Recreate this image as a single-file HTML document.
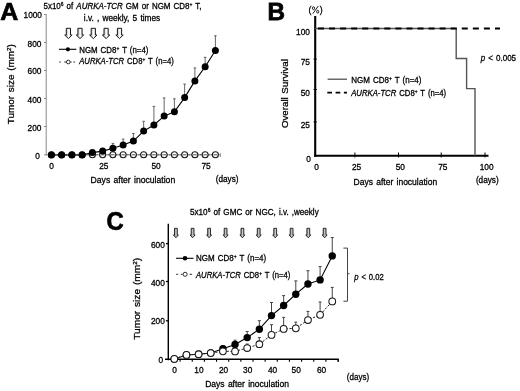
<!DOCTYPE html>
<html><head><meta charset="utf-8"><style>
html,body{margin:0;padding:0;background:#fff;width:520px;height:391px;overflow:hidden}
svg{display:block}
svg text{font-family:"Liberation Sans", sans-serif;stroke:#000;stroke-width:0.28px;word-spacing:0.9px}
svg{filter:grayscale(1)}
</style></head><body>
<svg width="520" height="391" viewBox="0 0 520 391">
<defs><linearGradient id="ag" x1="0" y1="0" x2="1" y2="0"><stop offset="0" stop-color="#888"/><stop offset="0.55" stop-color="#fff"/><stop offset="1" stop-color="#bbb"/></linearGradient><linearGradient id="ag2" x1="0" y1="0" x2="1" y2="0"><stop offset="0" stop-color="#666"/><stop offset="0.55" stop-color="#ccc"/><stop offset="1" stop-color="#888"/></linearGradient></defs>
<rect width="520" height="391" fill="#fff"/>
<text x="0.2" y="20.0" font-size="23.6" text-anchor="start" fill="#000" textLength="18.0" lengthAdjust="spacingAndGlyphs" font-weight="bold" style="stroke-width:0.7px">A</text>
<text x="43.5" y="9.0" font-size="8.4" text-anchor="start" fill="#000" textLength="158.0" lengthAdjust="spacingAndGlyphs">5x10<tspan font-size="0.62em" baseline-shift="55%">6</tspan> of <tspan font-style="italic">AURKA-TCR</tspan> GM or NGM CD8<tspan font-size="0.62em" baseline-shift="55%">+</tspan> T,</text>
<text x="83.8" y="20.8" font-size="8.4" text-anchor="start" fill="#000" textLength="76.4" lengthAdjust="spacingAndGlyphs">i.v. , weekly, 5 times</text>
<path d="M66.30,28.30 L70.50,28.30 L70.50,35.00 L72.10,35.00 L68.40,38.60 L64.70,35.00 L66.30,35.00 Z" fill="url(#ag)" stroke="#1a1a1a" stroke-width="1.0" stroke-linejoin="miter"/>
<path d="M77.90,28.30 L82.10,28.30 L82.10,35.00 L83.70,35.00 L80.00,38.60 L76.30,35.00 L77.90,35.00 Z" fill="url(#ag)" stroke="#1a1a1a" stroke-width="1.0" stroke-linejoin="miter"/>
<path d="M91.20,28.30 L95.40,28.30 L95.40,35.00 L97.00,35.00 L93.30,38.60 L89.60,35.00 L91.20,35.00 Z" fill="url(#ag)" stroke="#1a1a1a" stroke-width="1.0" stroke-linejoin="miter"/>
<path d="M104.00,28.30 L108.20,28.30 L108.20,35.00 L109.80,35.00 L106.10,38.60 L102.40,35.00 L104.00,35.00 Z" fill="url(#ag)" stroke="#1a1a1a" stroke-width="1.0" stroke-linejoin="miter"/>
<path d="M117.40,28.30 L121.60,28.30 L121.60,35.00 L123.20,35.00 L119.50,38.60 L115.80,35.00 L117.40,35.00 Z" fill="url(#ag)" stroke="#1a1a1a" stroke-width="1.0" stroke-linejoin="miter"/>
<line x1="46.2" y1="14.4" x2="46.2" y2="155.3" stroke="#8a8a8a" stroke-width="1"/>
<line x1="44.0" y1="154.8" x2="220.3" y2="154.8" stroke="#8a8a8a" stroke-width="1"/>
<line x1="220.3" y1="153.3" x2="220.3" y2="157.0" stroke="#8a8a8a" stroke-width="1"/>
<line x1="44.0" y1="14.5" x2="46.2" y2="14.5" stroke="#8a8a8a" stroke-width="1"/>
<line x1="44.0" y1="42.5" x2="46.2" y2="42.5" stroke="#8a8a8a" stroke-width="1"/>
<line x1="44.0" y1="70.5" x2="46.2" y2="70.5" stroke="#8a8a8a" stroke-width="1"/>
<line x1="44.0" y1="98.5" x2="46.2" y2="98.5" stroke="#8a8a8a" stroke-width="1"/>
<line x1="44.0" y1="126.5" x2="46.2" y2="126.5" stroke="#8a8a8a" stroke-width="1"/>
<text x="42.0" y="18.25" font-size="8.3" text-anchor="end" fill="#000">1000</text>
<text x="41.4" y="46.9" font-size="8.3" text-anchor="end" fill="#000" textLength="13.9" lengthAdjust="spacingAndGlyphs">800</text>
<text x="41.4" y="74.4" font-size="8.3" text-anchor="end" fill="#000" textLength="13.9" lengthAdjust="spacingAndGlyphs">600</text>
<text x="41.4" y="102.5" font-size="8.3" text-anchor="end" fill="#000" textLength="13.9" lengthAdjust="spacingAndGlyphs">400</text>
<text x="41.4" y="130.5" font-size="8.3" text-anchor="end" fill="#000" textLength="13.9" lengthAdjust="spacingAndGlyphs">200</text>
<text x="39.9" y="158.9" font-size="8.3" text-anchor="end" fill="#000">0</text>
<text x="51.5" y="169.0" font-size="8.3" text-anchor="middle" fill="#000">0</text>
<text x="103.8" y="169.0" font-size="8.3" text-anchor="middle" fill="#000">25</text>
<text x="156.0" y="169.0" font-size="8.3" text-anchor="middle" fill="#000">50</text>
<text x="206.0" y="169.0" font-size="8.3" text-anchor="middle" fill="#000">75</text>
<text x="227.1" y="181.6" font-size="8.3" text-anchor="middle" fill="#000" textLength="22.8" lengthAdjust="spacingAndGlyphs">(days)</text>
<text x="90.6" y="183.1" font-size="8.6" text-anchor="start" fill="#000" textLength="84.6" lengthAdjust="spacingAndGlyphs">Days after inoculation</text>
<text transform="translate(13.7,84.2) rotate(-90)" font-size="9.9" text-anchor="middle" fill="#000" textLength="80" lengthAdjust="spacingAndGlyphs">Tumor size (mm<tspan font-size="0.62em" baseline-shift="55%">2</tspan>)</text>
<polyline points="51.40,154.8 61.65,154.8 71.90,154.8 82.15,154.8 92.40,154.8 102.65,154.8 112.90,154.8 123.15,154.8 133.40,154.8 143.65,154.8 153.90,154.8 164.15,154.8 174.40,154.8 184.65,154.8 194.90,154.8 205.15,154.8 215.40,154.8" fill="none" stroke="#555" stroke-width="0.9" stroke-dasharray="1.6 1.2"/>
<circle cx="51.40" cy="154.8" r="3.0" fill="#fff" stroke="#1a1a1a" stroke-width="1.1"/>
<line x1="49.6" y1="154.8" x2="53.199999999999996" y2="154.8" stroke="#555" stroke-width="1.0"/>
<circle cx="61.65" cy="154.8" r="3.0" fill="#fff" stroke="#1a1a1a" stroke-width="1.1"/>
<line x1="59.85" y1="154.8" x2="63.449999999999996" y2="154.8" stroke="#555" stroke-width="1.0"/>
<circle cx="71.90" cy="154.8" r="3.0" fill="#fff" stroke="#1a1a1a" stroke-width="1.1"/>
<line x1="70.10000000000001" y1="154.8" x2="73.7" y2="154.8" stroke="#555" stroke-width="1.0"/>
<circle cx="82.15" cy="154.8" r="3.0" fill="#fff" stroke="#1a1a1a" stroke-width="1.1"/>
<line x1="80.35" y1="154.8" x2="83.94999999999999" y2="154.8" stroke="#555" stroke-width="1.0"/>
<circle cx="92.40" cy="154.8" r="3.0" fill="#fff" stroke="#1a1a1a" stroke-width="1.1"/>
<line x1="90.60000000000001" y1="154.8" x2="94.2" y2="154.8" stroke="#555" stroke-width="1.0"/>
<circle cx="102.65" cy="154.8" r="3.0" fill="#fff" stroke="#1a1a1a" stroke-width="1.1"/>
<line x1="100.85" y1="154.8" x2="104.44999999999999" y2="154.8" stroke="#555" stroke-width="1.0"/>
<circle cx="112.90" cy="154.8" r="3.0" fill="#fff" stroke="#1a1a1a" stroke-width="1.1"/>
<line x1="111.1" y1="154.8" x2="114.69999999999999" y2="154.8" stroke="#555" stroke-width="1.0"/>
<circle cx="123.15" cy="154.8" r="3.0" fill="#fff" stroke="#1a1a1a" stroke-width="1.1"/>
<line x1="121.35000000000001" y1="154.8" x2="124.95" y2="154.8" stroke="#555" stroke-width="1.0"/>
<circle cx="133.40" cy="154.8" r="3.0" fill="#fff" stroke="#1a1a1a" stroke-width="1.1"/>
<line x1="131.6" y1="154.8" x2="135.20000000000002" y2="154.8" stroke="#555" stroke-width="1.0"/>
<circle cx="143.65" cy="154.8" r="3.0" fill="#fff" stroke="#1a1a1a" stroke-width="1.1"/>
<line x1="141.84999999999997" y1="154.8" x2="145.45" y2="154.8" stroke="#555" stroke-width="1.0"/>
<circle cx="153.90" cy="154.8" r="3.0" fill="#fff" stroke="#1a1a1a" stroke-width="1.1"/>
<line x1="152.09999999999997" y1="154.8" x2="155.7" y2="154.8" stroke="#555" stroke-width="1.0"/>
<circle cx="164.15" cy="154.8" r="3.0" fill="#fff" stroke="#1a1a1a" stroke-width="1.1"/>
<line x1="162.34999999999997" y1="154.8" x2="165.95" y2="154.8" stroke="#555" stroke-width="1.0"/>
<circle cx="174.40" cy="154.8" r="3.0" fill="#fff" stroke="#1a1a1a" stroke-width="1.1"/>
<line x1="172.59999999999997" y1="154.8" x2="176.2" y2="154.8" stroke="#555" stroke-width="1.0"/>
<circle cx="184.65" cy="154.8" r="3.0" fill="#fff" stroke="#1a1a1a" stroke-width="1.1"/>
<line x1="182.85" y1="154.8" x2="186.45000000000002" y2="154.8" stroke="#555" stroke-width="1.0"/>
<circle cx="194.90" cy="154.8" r="3.0" fill="#fff" stroke="#1a1a1a" stroke-width="1.1"/>
<line x1="193.1" y1="154.8" x2="196.70000000000002" y2="154.8" stroke="#555" stroke-width="1.0"/>
<circle cx="205.15" cy="154.8" r="3.0" fill="#fff" stroke="#1a1a1a" stroke-width="1.1"/>
<line x1="203.35" y1="154.8" x2="206.95000000000002" y2="154.8" stroke="#555" stroke-width="1.0"/>
<circle cx="215.40" cy="154.8" r="3.0" fill="#fff" stroke="#1a1a1a" stroke-width="1.1"/>
<line x1="213.6" y1="154.8" x2="217.20000000000002" y2="154.8" stroke="#555" stroke-width="1.0"/>
<line x1="112.89999999999999" y1="143.4" x2="112.89999999999999" y2="146.3" stroke="#555" stroke-width="0.9"/>
<line x1="111.6" y1="143.4" x2="114.19999999999999" y2="143.4" stroke="#555" stroke-width="0.9"/>
<line x1="123.15" y1="139.1" x2="123.15" y2="143" stroke="#555" stroke-width="0.9"/>
<line x1="121.85000000000001" y1="139.1" x2="124.45" y2="139.1" stroke="#555" stroke-width="0.9"/>
<line x1="133.4" y1="133.5" x2="133.4" y2="139.1" stroke="#555" stroke-width="0.9"/>
<line x1="132.1" y1="133.5" x2="134.70000000000002" y2="133.5" stroke="#555" stroke-width="0.9"/>
<line x1="143.64999999999998" y1="121.3" x2="143.64999999999998" y2="129.1" stroke="#555" stroke-width="0.9"/>
<line x1="142.34999999999997" y1="121.3" x2="144.95" y2="121.3" stroke="#555" stroke-width="0.9"/>
<line x1="153.89999999999998" y1="106.4" x2="153.89999999999998" y2="123" stroke="#555" stroke-width="0.9"/>
<line x1="152.59999999999997" y1="106.4" x2="155.2" y2="106.4" stroke="#555" stroke-width="0.9"/>
<line x1="164.14999999999998" y1="97.9" x2="164.14999999999998" y2="114.1" stroke="#555" stroke-width="0.9"/>
<line x1="162.84999999999997" y1="97.9" x2="165.45" y2="97.9" stroke="#555" stroke-width="0.9"/>
<line x1="174.39999999999998" y1="98.8" x2="174.39999999999998" y2="109.7" stroke="#555" stroke-width="0.9"/>
<line x1="173.09999999999997" y1="98.8" x2="175.7" y2="98.8" stroke="#555" stroke-width="0.9"/>
<line x1="184.65" y1="84.1" x2="184.65" y2="95.6" stroke="#555" stroke-width="0.9"/>
<line x1="183.35" y1="84.1" x2="185.95000000000002" y2="84.1" stroke="#555" stroke-width="0.9"/>
<line x1="194.9" y1="67.9" x2="194.9" y2="78.9" stroke="#555" stroke-width="0.9"/>
<line x1="193.6" y1="67.9" x2="196.20000000000002" y2="67.9" stroke="#555" stroke-width="0.9"/>
<line x1="205.15" y1="57.3" x2="205.15" y2="64.8" stroke="#555" stroke-width="0.9"/>
<line x1="203.85" y1="57.3" x2="206.45000000000002" y2="57.3" stroke="#555" stroke-width="0.9"/>
<line x1="215.4" y1="35.8" x2="215.4" y2="48.5" stroke="#555" stroke-width="0.9"/>
<line x1="214.1" y1="35.8" x2="216.70000000000002" y2="35.8" stroke="#555" stroke-width="0.9"/>
<polyline points="51.40,155 61.65,155 71.90,155 82.15,155 92.40,152.6 102.65,151.1 112.90,148.3 123.15,145 133.40,141.1 143.65,131.1 153.90,125 164.15,116.1 174.40,111.7 184.65,97.6 194.90,80.9 205.15,66.8 215.40,50.5" fill="none" stroke="#000" stroke-width="1.1"/>
<circle cx="51.40" cy="155" r="3.5" fill="#000"/>
<circle cx="61.65" cy="155" r="3.5" fill="#000"/>
<circle cx="71.90" cy="155" r="3.5" fill="#000"/>
<circle cx="82.15" cy="155" r="3.5" fill="#000"/>
<circle cx="92.40" cy="152.6" r="3.5" fill="#000"/>
<circle cx="102.65" cy="151.1" r="3.5" fill="#000"/>
<circle cx="112.90" cy="148.3" r="3.5" fill="#000"/>
<circle cx="123.15" cy="145" r="3.5" fill="#000"/>
<circle cx="133.40" cy="141.1" r="3.5" fill="#000"/>
<circle cx="143.65" cy="131.1" r="3.5" fill="#000"/>
<circle cx="153.90" cy="125" r="3.5" fill="#000"/>
<circle cx="164.15" cy="116.1" r="3.5" fill="#000"/>
<circle cx="174.40" cy="111.7" r="3.5" fill="#000"/>
<circle cx="184.65" cy="97.6" r="3.5" fill="#000"/>
<circle cx="194.90" cy="80.9" r="3.5" fill="#000"/>
<circle cx="205.15" cy="66.8" r="3.5" fill="#000"/>
<circle cx="215.40" cy="50.5" r="3.5" fill="#000"/>
<line x1="59.0" y1="49.3" x2="76.4" y2="49.3" stroke="#000" stroke-width="1.1"/>
<circle cx="67.9" cy="49.3" r="2.1" fill="#000"/>
<text x="79.2" y="52.6" font-size="8.4" text-anchor="start" fill="#000" textLength="69.3" lengthAdjust="spacingAndGlyphs">NGM CD8<tspan font-size="0.62em" baseline-shift="55%">+</tspan> T (n=4)</text>
<line x1="59.1" y1="62.0" x2="60.8" y2="62.0" stroke="#333" stroke-width="1.0"/>
<line x1="64.2" y1="62.0" x2="66.2" y2="62.0" stroke="#333" stroke-width="1.0"/>
<line x1="70.4" y1="62.0" x2="71.7" y2="62.0" stroke="#333" stroke-width="1.0"/>
<line x1="73.3" y1="62.0" x2="75.1" y2="62.0" stroke="#333" stroke-width="1.0"/>
<circle cx="68.3" cy="62.0" r="1.85" fill="#fff" stroke="#222" stroke-width="0.95"/>
<text x="79.2" y="64.3" font-size="8.4" text-anchor="start" fill="#000" textLength="94.6" lengthAdjust="spacingAndGlyphs"><tspan font-style="italic">AURKA-TCR</tspan> CD8<tspan font-size="0.62em" baseline-shift="55%">+</tspan> T (n=4)</text>
<text x="267.6" y="19.6" font-size="24.4" text-anchor="start" fill="#000" textLength="17.5" lengthAdjust="spacingAndGlyphs" font-weight="bold" style="stroke-width:0.8px">B</text>
<text x="308.4" y="13.4" font-size="8.8" text-anchor="start" fill="#000">(</text>
<text x="322.8" y="13.4" font-size="8.8" text-anchor="end" fill="#000">)</text>
<g fill="none" stroke="#111" stroke-width="0.95"><ellipse cx="313.5" cy="8.2" rx="1.05" ry="1.45"/><ellipse cx="317.7" cy="11.7" rx="1.05" ry="1.45"/><line x1="318.3" y1="6.0" x2="312.8" y2="13.7"/></g>
<line x1="315.2" y1="16" x2="315.2" y2="156.8" stroke="#000" stroke-width="2.1"/>
<line x1="314.2" y1="155.8" x2="488.5" y2="155.8" stroke="#000" stroke-width="2.1"/>
<line x1="313.6" y1="59.1" x2="316.8" y2="59.1" stroke="#000" stroke-width="1"/>
<line x1="313.6" y1="89.5" x2="316.8" y2="89.5" stroke="#000" stroke-width="1"/>
<line x1="313.6" y1="121.9" x2="316.8" y2="121.9" stroke="#000" stroke-width="1"/>
<line x1="354.9" y1="152.5" x2="354.9" y2="157.5" stroke="#000" stroke-width="1"/>
<line x1="398.5" y1="152.5" x2="398.5" y2="157.5" stroke="#000" stroke-width="1"/>
<line x1="441.2" y1="152.5" x2="441.2" y2="157.5" stroke="#000" stroke-width="1"/>
<line x1="485.0" y1="152.5" x2="485.0" y2="157.5" stroke="#000" stroke-width="1"/>
<text x="309.9" y="35.0" font-size="8.3" text-anchor="end" fill="#000">100</text>
<text x="309.9" y="65.1" font-size="8.3" text-anchor="end" fill="#000">75</text>
<text x="309.9" y="95.7" font-size="8.3" text-anchor="end" fill="#000">50</text>
<text x="309.9" y="127.9" font-size="8.3" text-anchor="end" fill="#000">25</text>
<text x="310.9" y="162.3" font-size="8.3" text-anchor="end" fill="#000">0</text>
<text x="316.5" y="170.0" font-size="8.3" text-anchor="middle" fill="#000">0</text>
<text x="356.5" y="170.0" font-size="8.3" text-anchor="middle" fill="#000">25</text>
<text x="400.3" y="170.0" font-size="8.3" text-anchor="middle" fill="#000">50</text>
<text x="442.8" y="170.0" font-size="8.3" text-anchor="middle" fill="#000">75</text>
<text x="486.6" y="170.0" font-size="8.3" text-anchor="middle" fill="#000">100</text>
<text x="487.3" y="182.5" font-size="8.3" text-anchor="middle" fill="#000" textLength="22.8" lengthAdjust="spacingAndGlyphs">(days)</text>
<text x="353.6" y="184.6" font-size="8.6" text-anchor="start" fill="#000" textLength="83.6" lengthAdjust="spacingAndGlyphs">Days after inoculation</text>
<text transform="translate(288.0,93.6) rotate(-90)" font-size="9.9" text-anchor="middle" fill="#000" textLength="69" lengthAdjust="spacingAndGlyphs">Overall Survival</text>
<polyline points="315.2,28.5 456.2,28.5 456.2,58.5 466.6,58.5 466.6,88.6 475.0,88.6 475.0,155.8" fill="none" stroke="#555" stroke-width="1.4"/>
<line x1="315" y1="28.6" x2="500" y2="28.6" stroke="#000" stroke-width="2" stroke-dasharray="6 5.06" stroke-dashoffset="-3"/>
<line x1="327.6" y1="79.2" x2="347.0" y2="79.2" stroke="#444" stroke-width="1.2"/>
<line x1="327.3" y1="92.6" x2="347" y2="92.6" stroke="#000" stroke-width="1.8" stroke-dasharray="4.7 3.6"/>
<text x="351.2" y="83.0" font-size="8.4" text-anchor="start" fill="#000" textLength="70.3" lengthAdjust="spacingAndGlyphs">NGM CD8<tspan font-size="0.62em" baseline-shift="55%">+</tspan> T (n=4)</text>
<text x="351.2" y="95.8" font-size="8.4" text-anchor="start" fill="#000" textLength="95.0" lengthAdjust="spacingAndGlyphs"><tspan font-style="italic">AURKA-TCR</tspan> CD8<tspan font-size="0.62em" baseline-shift="55%">+</tspan> T (n=4)</text>
<text x="480.7" y="60.6" font-size="8.4" text-anchor="start" fill="#000" textLength="35.4" lengthAdjust="spacingAndGlyphs"><tspan font-style="italic">p</tspan> &lt; 0.005</text>
<text x="106.6" y="230.2" font-size="25.6" text-anchor="start" fill="#000" textLength="17.2" lengthAdjust="spacingAndGlyphs" font-weight="bold" style="stroke-width:0.7px">C</text>
<text x="190.1" y="215.2" font-size="8.4" text-anchor="start" fill="#000" textLength="128.6" lengthAdjust="spacingAndGlyphs">5x10<tspan font-size="0.62em" baseline-shift="55%">6</tspan> of GMC or NGC, i.v. ,weekly</text>
<path d="M174.50,228.30 L177.30,228.30 L177.30,234.90 L178.40,234.90 L175.90,237.80 L173.40,234.90 L174.50,234.90 Z" fill="url(#ag2)" stroke="#1a1a1a" stroke-width="0.9" stroke-linejoin="miter"/>
<path d="M191.20,228.30 L194.00,228.30 L194.00,234.90 L195.10,234.90 L192.60,237.80 L190.10,234.90 L191.20,234.90 Z" fill="url(#ag2)" stroke="#1a1a1a" stroke-width="0.9" stroke-linejoin="miter"/>
<path d="M207.70,228.30 L210.50,228.30 L210.50,234.90 L211.60,234.90 L209.10,237.80 L206.60,234.90 L207.70,234.90 Z" fill="url(#ag2)" stroke="#1a1a1a" stroke-width="0.9" stroke-linejoin="miter"/>
<path d="M224.20,228.30 L227.00,228.30 L227.00,234.90 L228.10,234.90 L225.60,237.80 L223.10,234.90 L224.20,234.90 Z" fill="url(#ag2)" stroke="#1a1a1a" stroke-width="0.9" stroke-linejoin="miter"/>
<path d="M241.00,228.30 L243.80,228.30 L243.80,234.90 L244.90,234.90 L242.40,237.80 L239.90,234.90 L241.00,234.90 Z" fill="url(#ag2)" stroke="#1a1a1a" stroke-width="0.9" stroke-linejoin="miter"/>
<path d="M257.30,228.30 L260.10,228.30 L260.10,234.90 L261.20,234.90 L258.70,237.80 L256.20,234.90 L257.30,234.90 Z" fill="url(#ag2)" stroke="#1a1a1a" stroke-width="0.9" stroke-linejoin="miter"/>
<path d="M273.80,228.30 L276.60,228.30 L276.60,234.90 L277.70,234.90 L275.20,237.80 L272.70,234.90 L273.80,234.90 Z" fill="url(#ag2)" stroke="#1a1a1a" stroke-width="0.9" stroke-linejoin="miter"/>
<path d="M290.20,228.30 L293.00,228.30 L293.00,234.90 L294.10,234.90 L291.60,237.80 L289.10,234.90 L290.20,234.90 Z" fill="url(#ag2)" stroke="#1a1a1a" stroke-width="0.9" stroke-linejoin="miter"/>
<path d="M306.90,228.30 L309.70,228.30 L309.70,234.90 L310.80,234.90 L308.30,237.80 L305.80,234.90 L306.90,234.90 Z" fill="url(#ag2)" stroke="#1a1a1a" stroke-width="0.9" stroke-linejoin="miter"/>
<path d="M323.20,228.30 L326.00,228.30 L326.00,234.90 L327.10,234.90 L324.60,237.80 L322.10,234.90 L323.20,234.90 Z" fill="url(#ag2)" stroke="#1a1a1a" stroke-width="0.9" stroke-linejoin="miter"/>
<line x1="168.3" y1="223.8" x2="168.3" y2="360.2" stroke="#000" stroke-width="1.4"/>
<line x1="165.0" y1="359.3" x2="338.8" y2="359.3" stroke="#000" stroke-width="1.5"/>
<line x1="165.9" y1="243.6" x2="168.3" y2="243.6" stroke="#000" stroke-width="1.3"/>
<line x1="165.9" y1="281.5" x2="168.3" y2="281.5" stroke="#000" stroke-width="1.3"/>
<line x1="165.9" y1="320.8" x2="168.3" y2="320.8" stroke="#000" stroke-width="1.3"/>
<line x1="180.1" y1="359.3" x2="180.1" y2="361.8" stroke="#000" stroke-width="1.1"/>
<line x1="192.25" y1="359.3" x2="192.25" y2="361.8" stroke="#000" stroke-width="1.1"/>
<line x1="204.4" y1="359.3" x2="204.4" y2="361.8" stroke="#000" stroke-width="1.1"/>
<line x1="216.55" y1="359.3" x2="216.55" y2="361.8" stroke="#000" stroke-width="1.1"/>
<line x1="228.7" y1="359.3" x2="228.7" y2="361.8" stroke="#000" stroke-width="1.1"/>
<line x1="240.85" y1="359.3" x2="240.85" y2="361.8" stroke="#000" stroke-width="1.1"/>
<line x1="253.0" y1="359.3" x2="253.0" y2="361.8" stroke="#000" stroke-width="1.1"/>
<line x1="265.15" y1="359.3" x2="265.15" y2="361.8" stroke="#000" stroke-width="1.1"/>
<line x1="277.3" y1="359.3" x2="277.3" y2="361.8" stroke="#000" stroke-width="1.1"/>
<line x1="289.45" y1="359.3" x2="289.45" y2="361.8" stroke="#000" stroke-width="1.1"/>
<line x1="301.6" y1="359.3" x2="301.6" y2="361.8" stroke="#000" stroke-width="1.1"/>
<line x1="313.75" y1="359.3" x2="313.75" y2="361.8" stroke="#000" stroke-width="1.1"/>
<line x1="325.9" y1="359.3" x2="325.9" y2="361.8" stroke="#000" stroke-width="1.1"/>
<line x1="338.05" y1="359.3" x2="338.05" y2="361.8" stroke="#000" stroke-width="1.1"/>
<line x1="338.3" y1="359.3" x2="338.3" y2="361.8" stroke="#000" stroke-width="1.1"/>
<text x="164.8" y="248.0" font-size="8.3" text-anchor="end" fill="#000">600</text>
<text x="164.8" y="286.1" font-size="8.3" text-anchor="end" fill="#000">400</text>
<text x="164.8" y="324.4" font-size="8.3" text-anchor="end" fill="#000">200</text>
<text x="163.0" y="363.0" font-size="8.3" text-anchor="end" fill="#000">0</text>
<text x="174.6" y="373.4" font-size="8.3" text-anchor="middle" fill="#000">0</text>
<text x="198.9" y="373.4" font-size="8.3" text-anchor="middle" fill="#000">10</text>
<text x="223.5" y="373.4" font-size="8.3" text-anchor="middle" fill="#000">20</text>
<text x="247.7" y="373.4" font-size="8.3" text-anchor="middle" fill="#000">30</text>
<text x="272.6" y="373.4" font-size="8.3" text-anchor="middle" fill="#000">40</text>
<text x="296.2" y="373.4" font-size="8.3" text-anchor="middle" fill="#000">50</text>
<text x="321.5" y="373.4" font-size="8.3" text-anchor="middle" fill="#000">60</text>
<text x="358.0" y="379.7" font-size="8.3" text-anchor="middle" fill="#000" textLength="22.3" lengthAdjust="spacingAndGlyphs">(days)</text>
<text x="205.2" y="387.1" font-size="8.6" text-anchor="start" fill="#000" textLength="83.8" lengthAdjust="spacingAndGlyphs">Days after inoculation</text>
<text transform="translate(140.2,298.8) rotate(-90)" font-size="9.9" text-anchor="middle" fill="#000" textLength="82" lengthAdjust="spacingAndGlyphs">Tumor size  (mm<tspan font-size="0.62em" baseline-shift="55%">2</tspan>)</text>
<polyline points="343.4,248.1 347.5,248.1 347.5,301.2 343.4,301.2" fill="none" stroke="#444" stroke-width="1"/>
<line x1="347.5" y1="273.7" x2="349.5" y2="273.7" stroke="#444" stroke-width="1"/>
<text x="354.2" y="279.7" font-size="8.4" text-anchor="start" fill="#000" textLength="29.5" lengthAdjust="spacingAndGlyphs"><tspan font-style="italic">p</tspan> &lt; 0.02</text>
<line x1="222.9" y1="345.5" x2="222.9" y2="346.8" stroke="#444" stroke-width="1"/>
<line x1="221.4" y1="345.5" x2="224.4" y2="345.5" stroke="#444" stroke-width="1"/>
<line x1="235.05" y1="340.2" x2="235.05" y2="342.5" stroke="#444" stroke-width="1"/>
<line x1="233.55" y1="340.2" x2="236.55" y2="340.2" stroke="#444" stroke-width="1"/>
<line x1="247.20000000000002" y1="331.5" x2="247.20000000000002" y2="335.6" stroke="#444" stroke-width="1"/>
<line x1="245.70000000000002" y1="331.5" x2="248.70000000000002" y2="331.5" stroke="#444" stroke-width="1"/>
<line x1="259.35" y1="320.7" x2="259.35" y2="327.2" stroke="#444" stroke-width="1"/>
<line x1="257.85" y1="320.7" x2="260.85" y2="320.7" stroke="#444" stroke-width="1"/>
<line x1="271.5" y1="302.5" x2="271.5" y2="313.6" stroke="#444" stroke-width="1"/>
<line x1="270.0" y1="302.5" x2="273.0" y2="302.5" stroke="#444" stroke-width="1"/>
<line x1="283.65000000000003" y1="295.6" x2="283.65000000000003" y2="303.5" stroke="#444" stroke-width="1"/>
<line x1="282.15000000000003" y1="295.6" x2="285.15000000000003" y2="295.6" stroke="#444" stroke-width="1"/>
<line x1="295.8" y1="280.9" x2="295.8" y2="292.2" stroke="#444" stroke-width="1"/>
<line x1="294.3" y1="280.9" x2="297.3" y2="280.9" stroke="#444" stroke-width="1"/>
<line x1="307.95000000000005" y1="270.7" x2="307.95000000000005" y2="282.0" stroke="#444" stroke-width="1"/>
<line x1="306.45000000000005" y1="270.7" x2="309.45000000000005" y2="270.7" stroke="#444" stroke-width="1"/>
<line x1="320.1" y1="266.6" x2="320.1" y2="277.9" stroke="#444" stroke-width="1"/>
<line x1="318.6" y1="266.6" x2="321.6" y2="266.6" stroke="#444" stroke-width="1"/>
<line x1="332.25" y1="237.5" x2="332.25" y2="253.9" stroke="#444" stroke-width="1"/>
<line x1="330.75" y1="237.5" x2="333.75" y2="237.5" stroke="#444" stroke-width="1"/>
<polyline points="174.30,359.0 186.45,355.0 198.60,354.3 210.75,353.0 222.90,348.8 235.05,344.5 247.20,337.6 259.35,329.2 271.50,315.6 283.65,305.5 295.80,294.2 307.95,284.0 320.10,279.9 332.25,255.9" fill="none" stroke="#000" stroke-width="1.1"/>
<circle cx="174.30" cy="359.0" r="3.7" fill="#000"/>
<circle cx="186.45" cy="355.0" r="3.7" fill="#000"/>
<circle cx="198.60" cy="354.3" r="3.7" fill="#000"/>
<circle cx="210.75" cy="353.0" r="3.7" fill="#000"/>
<circle cx="222.90" cy="348.8" r="3.7" fill="#000"/>
<circle cx="235.05" cy="344.5" r="3.7" fill="#000"/>
<circle cx="247.20" cy="337.6" r="3.7" fill="#000"/>
<circle cx="259.35" cy="329.2" r="3.7" fill="#000"/>
<circle cx="271.50" cy="315.6" r="3.7" fill="#000"/>
<circle cx="283.65" cy="305.5" r="3.7" fill="#000"/>
<circle cx="295.80" cy="294.2" r="3.7" fill="#000"/>
<circle cx="307.95" cy="284.0" r="3.7" fill="#000"/>
<circle cx="320.10" cy="279.9" r="3.7" fill="#000"/>
<circle cx="332.25" cy="255.9" r="3.7" fill="#000"/>
<line x1="247.20000000000002" y1="344.0" x2="247.20000000000002" y2="346.0" stroke="#444" stroke-width="1"/>
<line x1="245.70000000000002" y1="344.0" x2="248.70000000000002" y2="344.0" stroke="#444" stroke-width="1"/>
<line x1="259.35" y1="337.6" x2="259.35" y2="342.2" stroke="#444" stroke-width="1"/>
<line x1="257.85" y1="337.6" x2="260.85" y2="337.6" stroke="#444" stroke-width="1"/>
<line x1="271.5" y1="324.7" x2="271.5" y2="332.9" stroke="#444" stroke-width="1"/>
<line x1="270.0" y1="324.7" x2="273.0" y2="324.7" stroke="#444" stroke-width="1"/>
<line x1="283.65000000000003" y1="317.4" x2="283.65000000000003" y2="326.9" stroke="#444" stroke-width="1"/>
<line x1="282.15000000000003" y1="317.4" x2="285.15000000000003" y2="317.4" stroke="#444" stroke-width="1"/>
<line x1="295.8" y1="322.1" x2="295.8" y2="326.3" stroke="#444" stroke-width="1"/>
<line x1="294.3" y1="322.1" x2="297.3" y2="322.1" stroke="#444" stroke-width="1"/>
<line x1="307.95000000000005" y1="311.4" x2="307.95000000000005" y2="318.0" stroke="#444" stroke-width="1"/>
<line x1="306.45000000000005" y1="311.4" x2="309.45000000000005" y2="311.4" stroke="#444" stroke-width="1"/>
<line x1="320.1" y1="302.0" x2="320.1" y2="312.8" stroke="#444" stroke-width="1"/>
<line x1="318.6" y1="302.0" x2="321.6" y2="302.0" stroke="#444" stroke-width="1"/>
<line x1="332.25" y1="287.4" x2="332.25" y2="299.4" stroke="#444" stroke-width="1"/>
<line x1="330.75" y1="287.4" x2="333.75" y2="287.4" stroke="#444" stroke-width="1"/>
<polyline points="174.30,358.9 186.45,354.9 198.60,354.2 210.75,353.1 222.90,351.3 235.05,351.4 247.20,348.0 259.35,344.2 271.50,334.9 283.65,328.9 295.80,328.3 307.95,320.0 320.10,314.8 332.25,301.4" fill="none" stroke="#222" stroke-width="1" stroke-dasharray="2.2 1.6"/>
<circle cx="174.30" cy="358.9" r="3.35" fill="#fff" stroke="#1a1a1a" stroke-width="1.05"/>
<circle cx="186.45" cy="354.9" r="3.35" fill="#fff" stroke="#1a1a1a" stroke-width="1.05"/>
<circle cx="198.60" cy="354.2" r="3.35" fill="#fff" stroke="#1a1a1a" stroke-width="1.05"/>
<circle cx="210.75" cy="353.1" r="3.35" fill="#fff" stroke="#1a1a1a" stroke-width="1.05"/>
<circle cx="222.90" cy="351.3" r="3.35" fill="#fff" stroke="#1a1a1a" stroke-width="1.05"/>
<circle cx="235.05" cy="351.4" r="3.35" fill="#fff" stroke="#1a1a1a" stroke-width="1.05"/>
<circle cx="247.20" cy="348.0" r="3.35" fill="#fff" stroke="#1a1a1a" stroke-width="1.05"/>
<circle cx="259.35" cy="344.2" r="3.35" fill="#fff" stroke="#1a1a1a" stroke-width="1.05"/>
<circle cx="271.50" cy="334.9" r="3.35" fill="#fff" stroke="#1a1a1a" stroke-width="1.05"/>
<circle cx="283.65" cy="328.9" r="3.35" fill="#fff" stroke="#1a1a1a" stroke-width="1.05"/>
<circle cx="295.80" cy="328.3" r="3.35" fill="#fff" stroke="#1a1a1a" stroke-width="1.05"/>
<circle cx="307.95" cy="320.0" r="3.35" fill="#fff" stroke="#1a1a1a" stroke-width="1.05"/>
<circle cx="320.10" cy="314.8" r="3.35" fill="#fff" stroke="#1a1a1a" stroke-width="1.05"/>
<circle cx="332.25" cy="301.4" r="3.35" fill="#fff" stroke="#1a1a1a" stroke-width="1.05"/>
<line x1="176.1" y1="258.3" x2="193.5" y2="258.3" stroke="#000" stroke-width="1.1"/>
<circle cx="185" cy="258.3" r="2.3" fill="#000"/>
<text x="196.0" y="261.3" font-size="8.4" text-anchor="start" fill="#000" textLength="70.2" lengthAdjust="spacingAndGlyphs">NGM CD8<tspan font-size="0.62em" baseline-shift="55%">+</tspan> T (n=4)</text>
<line x1="176.1" y1="274.3" x2="178.2" y2="274.3" stroke="#333" stroke-width="1.0"/>
<line x1="180.8" y1="274.3" x2="182.5" y2="274.3" stroke="#333" stroke-width="1.0"/>
<line x1="189.6" y1="274.3" x2="192.1" y2="274.3" stroke="#333" stroke-width="1.0"/>
<circle cx="185.1" cy="274.3" r="2.05" fill="#fff" stroke="#222" stroke-width="0.95"/>
<text x="196.0" y="277.6" font-size="8.4" text-anchor="start" fill="#000" textLength="94.4" lengthAdjust="spacingAndGlyphs"><tspan font-style="italic">AURKA-TCR</tspan> CD8<tspan font-size="0.62em" baseline-shift="55%">+</tspan> T (n=4)</text>
</svg>
</body></html>
